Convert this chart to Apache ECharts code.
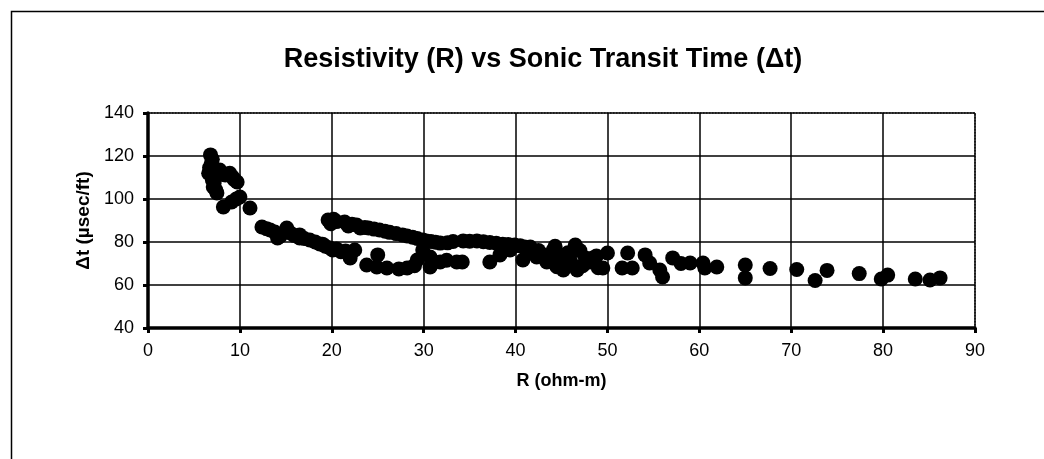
<!DOCTYPE html>
<html>
<head>
<meta charset="utf-8">
<script src="https://cdn.jsdelivr.net/npm/echarts@6/dist/echarts.min.js"></script>
<style>
html,body{margin:0;padding:0;background:#fff;}
#chart{width:1044px;height:459px;}
</style>
</head>
<body>
<div id="chart"></div>
<script>
const titleText = 'Resistivity (R) vs Sonic Transit Time (\u0394t)';
const xAxisName = 'R (ohm-m)';
const yAxisName = '\u0394t (\u00b5sec/ft)';
const xTicks = [0, 10, 20, 30, 40, 50, 60, 70, 80, 90];
const yTicks = [40, 60, 80, 100, 120, 140];

// R (ohm-m)
const resistivity = [
  6.8, 7.0, 6.9, 6.6, 7.0, 7.1, 7.5, 7.8, 8.4, 8.9, 9.2, 9.7, 8.2, 9.1, 10.0, 9.6, 11.1, 6.7, 7.2, 7.4, 8.0, 9.4,
  12.4, 13.3, 14.1, 14.4, 15.1, 15.5, 16.5, 16.5, 17.6, 18.2, 18.7, 19.3, 19.8, 20.1, 21.0, 22.5, 22.0,
  12.9, 13.8, 15.9, 17.0, 19.0, 20.5, 21.5,
  19.6, 19.9, 20.5, 21.4, 21.8, 22.7, 23.1, 24.0, 25.2, 26.3, 27.7, 28.8, 29.9, 30.8, 31.8, 33.2, 34.3, 35.8, 37.2, 38.6, 39.9, 41.0,
  20.2, 22.2, 23.6, 24.6, 25.8, 27.0, 28.2, 29.3, 30.3, 31.3, 32.6, 35.0, 36.5, 37.9, 39.2, 40.5,
  23.8, 25.0, 24.9, 26.0, 28.2, 29.3, 29.9, 30.7, 30.7, 29.0, 31.8, 33.6, 34.2, 27.3, 32.5,
  37.2, 38.3, 39.4, 40.8, 41.6, 41.6, 42.3, 43.4, 44.1, 44.3, 44.8, 45.2, 45.6, 45.7, 46.5, 46.7, 47.6, 48.1, 48.4, 49.0, 49.5, 47.0, 43.0, 42.5,
  43.8, 45.0, 46.0, 47.3, 48.8, 44.5,
  50.0, 51.6, 52.2, 52.7, 54.1, 54.6, 55.7, 56.0, 57.1, 58.0, 59.0, 60.4,
  60.6, 61.9, 65.0, 65.0, 67.7, 70.6, 72.6, 73.9, 77.4, 79.8, 80.5, 83.5, 85.1, 86.2
];
// Δt (µsec/ft)
const transitTime = [
  120.5, 118.5, 116.7, 112, 109, 105.6, 102.8, 113.5, 111.2, 112, 110.2, 107.9, 96.3, 98.6, 100.9, 100, 95.8, 114.5, 107.5, 104, 111.5, 109,
  87, 85.6, 81.9, 82.8, 86.5, 84.2, 83.3, 81.9, 80.9, 80, 79.1, 78, 77.2, 76.3, 75.5, 76.3, 72.6,
  86.2, 84.6, 83.0, 81.6, 79.0, 76.8, 75.8,
  90.2, 88.5, 89.5, 89.3, 87.5, 87.9, 86.5, 86.5, 85.6, 84.5, 83.3, 82.2, 80.9, 80.2, 79.5, 80.2, 80.5, 80.5, 79.8, 79.0, 78.6, 77.7,
  90.6, 88.3, 86.8, 86.0, 85.0, 83.9, 82.8, 81.6, 80.5, 79.9, 79.6, 80.4, 80.1, 79.4, 78.8, 78.2,
  69.3, 74, 68.4, 67.9, 67.9, 71.6, 76.3, 73, 68.4, 69, 70.7, 70.7, 70.7, 67.5, 71.5,
  70.7, 74, 76.3, 71.6, 75.3, 77.7, 73, 70.7, 76.3, 78, 70.7, 67, 69.3, 75, 78.6, 67, 72.6, 70.7, 72.6, 68, 67.9, 76, 74, 76,
  72.5, 74.0, 71.0, 69.0, 73.5, 68.5,
  74.9, 67.9, 74.9, 67.9, 74.0, 70.2, 67, 63.7, 72.6, 70, 70.2, 70.2,
  67.9, 68.4, 69.3, 63.3, 67.7, 67.2, 62.1, 66.8, 65.3, 62.8, 64.6, 62.8, 62.3, 63.3
];

const points = resistivity.map((r, i) => [r, transitTime[i]]);
const FONT = 'Liberation Sans, Arial, Helvetica, sans-serif';

const chart = echarts.init(document.getElementById('chart'), null, {renderer: 'canvas'});
chart.setOption({
  animation: false,
  backgroundColor: '#fff',
  title: {
    text: titleText,
    left: 538, top: 41, textAlign: 'center',
    textStyle: {fontFamily: FONT, fontSize: 27, fontWeight: 'bold', color: '#000'}
  },
  graphic: [{
    type: 'rect', left: 9, top: 9, silent: true,
    shape: {x: 0, y: 0, width: 1100, height: 500},
    style: {fill: 'none', stroke: '#000', lineWidth: 1.5}
  }],
  grid: {
    left: 148, right: 69, top: 113, bottom: 131,
    show: true, borderColor: '#444', borderWidth: 1.5, borderType: 'dotted'
  },
  xAxis: {
    type: 'value', min: xTicks[0], max: xTicks[xTicks.length - 1], interval: 10,
    name: xAxisName, nameLocation: 'middle', nameGap: 44,
    nameTextStyle: {fontFamily: FONT, fontSize: 18, fontWeight: 'bold', color: '#000'},
    axisLine: {show: true, onZero: false, lineStyle: {color: '#000', width: 3.5}},
    axisTick: {show: true, inside: false, length: 5, lineStyle: {color: '#000', width: 3}},
    axisLabel: {fontFamily: FONT, fontSize: 18, color: '#000', margin: 14},
    splitLine: {show: true, lineStyle: {color: '#000', width: 1.5}}
  },
  yAxis: {
    type: 'value', min: yTicks[0], max: yTicks[yTicks.length - 1], interval: 20,
    name: yAxisName, nameLocation: 'middle', nameGap: 47, nameRotate: 90,
    nameTextStyle: {fontFamily: FONT, fontSize: 19, fontWeight: 'bold', color: '#000'},
    axisLine: {show: true, onZero: false, lineStyle: {color: '#000', width: 3.5}},
    axisTick: {show: true, inside: false, length: 5, lineStyle: {color: '#000', width: 3}},
    axisLabel: {fontFamily: FONT, fontSize: 18, color: '#000', margin: 14},
    splitLine: {show: true, lineStyle: {color: '#000', width: 1.5}}
  },
  series: [{
    type: 'scatter',
    data: points,
    symbol: 'circle',
    symbolSize: 15,
    itemStyle: {color: '#000', opacity: 1},
    clip: false
  }]
});
</script>
</body>
</html>
